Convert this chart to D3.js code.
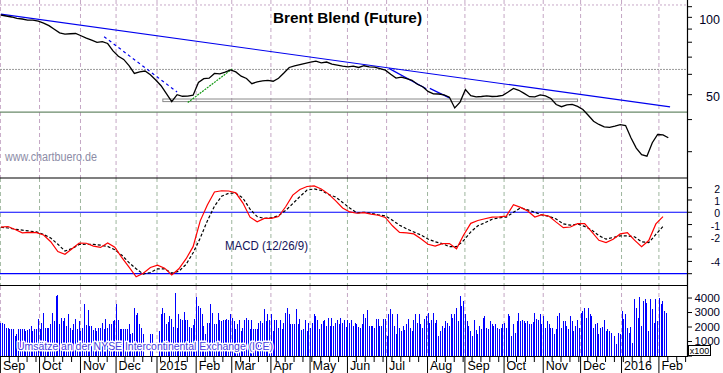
<!DOCTYPE html>
<html>
<head>
<meta charset="utf-8">
<script src="https://cdn.jsdelivr.net/npm/d3@7"></script>
<style>
body { margin: 0; background: #fff; }
svg { display: block; font-family: Arial, "Liberation Sans", sans-serif; }
</style>
</head>
<body>
<svg id="chart" width="723" height="373"></svg>
<script>
// trading days Sep 2014 .. Feb 2016, price every 3rd day, macd every 4th day
var firstDay = new Date(2014, 8, 1), lastDay = new Date(2016, 1, 24);
var priceStep = 3, macdStep = 4;

var prices = [
  102.1, 101.2, 100.3, 99.0, 98.5, 97.6, 97.6, 96.7, 95.0, 92.8,
  89.8, 87.0, 86.1, 86.3, 86.5, 84.8, 83.0, 81.5, 79.9, 80.4,
  79.1, 74.0, 70.6, 68.6, 64.9, 60.5, 61.3, 61.8, 59.8, 57.0,
  54.2, 50.5, 47.0, 50.0, 49.3, 49.4, 49.8, 55.8, 57.7, 58.0,
  60.5, 60.3, 61.2, 62.4, 61.3, 59.0, 57.8, 55.2, 56.1, 56.6,
  56.8, 56.4, 57.9, 60.7, 63.8, 64.7, 65.5, 66.2, 66.9, 67.5,
  66.5, 67.0, 65.8, 65.2, 64.6, 64.1, 64.6, 63.8, 64.8, 64.1,
  64.0, 63.2, 62.3, 60.0, 58.0, 58.5, 57.7, 56.9, 54.9, 53.7,
  51.5, 50.4, 50.3, 49.9, 48.9, 44.4, 46.8, 52.4, 49.6, 49.0,
  49.2, 49.5, 49.2, 49.3, 49.7, 51.2, 52.9, 52.0, 50.6, 49.1,
  49.0, 49.9, 49.5, 48.3, 45.8, 44.9, 45.6, 45.8, 45.0, 43.8,
  41.6, 39.4, 38.3, 37.5, 37.3, 37.7, 38.2, 37.9, 34.0, 31.0,
  29.2, 28.8, 32.5, 35.0, 34.9, 34.0
];

var macd = [
  -1.21, -1.16, -1.40, -1.67, -1.64, -1.66, -1.85, -2.40, -3.20, -3.42,
  -2.97, -2.50, -2.52, -2.75, -2.86, -2.50, -2.85, -3.70, -4.47, -5.25,
  -4.97, -4.50, -4.30, -4.55, -5.10, -4.60, -3.80, -2.80, -0.70, 0.60,
  1.65, 1.75, 1.73, 1.58, 0.75, -0.40, -0.78, -0.50, -0.50, -0.35,
  0.45, 1.40, 1.85, 2.10, 2.15, 1.90, 1.50, 0.95, 0.35, 0.03,
  -0.08, -0.03, -0.15, -0.24, -0.42, -1.10, -1.64, -1.67, -1.76, -2.15,
  -2.60, -2.75, -2.55, -2.55, -2.97, -1.85, -0.90, -0.67, -0.53, -0.39,
  -0.38, -0.31, 0.62, 0.40, 0.10, -0.39, -0.19, -0.32, -0.80, -1.25,
  -1.20, -0.93, -0.92, -1.60, -2.28, -2.46, -2.19, -1.76, -1.65, -2.27,
  -2.80, -2.30, -0.95, -0.35
];

var signal = [
  -1.22, -1.28, -1.38, -1.45, -1.53, -1.60, -1.80, -2.10, -2.60, -3.15,
  -2.95, -2.62, -2.60, -2.61, -2.68, -2.78, -3.05, -3.50, -4.10, -4.60,
  -5.03, -4.90, -4.60, -4.60, -4.95, -4.80, -4.25, -3.30, -2.10, -0.70,
  0.50, 1.30, 1.55, 1.55, 1.15, 0.25, -0.35, -0.50, -0.45, -0.28,
  0.15, 0.70, 1.28, 1.80, 1.90, 1.78, 1.45, 1.25, 0.80, 0.35,
  -0.05, 0.00, -0.08, -0.20, -0.30, -0.65, -1.05, -1.35, -1.60, -1.85,
  -2.18, -2.40, -2.55, -2.80, -2.80, -2.30, -1.60, -1.10, -0.85, -0.57,
  -0.45, -0.39, 0.00, 0.36, 0.20, 0.00, -0.22, -0.33, -0.55, -0.95,
  -1.05, -0.96, -1.15, -1.45, -1.90, -2.19, -2.05, -1.92, -1.92, -2.00,
  -2.40, -2.47, -1.80, -1.15
];

// daily volume (axis units, x100)
var volume = [
  // Sep 2014
  2250, 2250, 2180, 1950, 1900, 1840, 1840, 1840, 1380, 1500, 1840, 1840, 1840, 1840, 1720, 1760, 1840, 2060, 1720, 1840, 1840, 2520,
  // Oct
  1840, 2300, 2990, 1900, 1900, 1900, 2180, 2940, 2410, 4140, 4200, 2200, 2640, 2410, 2600, 2100, 2870, 1950, 1800, 2180, 2530, 1840, 2410,
  // Nov
  1720, 1900, 3560, 2140, 3150, 2070, 2070, 1800, 1900, 1700, 1900, 1950, 2300, 1840, 2530, 1950, 2180, 2180, 2410, 2460,
  // Dec
  3560, 2460, 1840, 1840, 1840, 1840, 1840, 2180, 1490, 1600, 3330, 2800, 2990, 2180, 1950, 1490, 0, 0, 0, 1490, 1490, 0, 0,
  // Jan 2015
  0, 1720, 2870, 3330, 2990, 2180, 2370, 2760, 2530, 2000, 4370, 1950, 2870, 2530, 2460, 3060, 2460, 2460, 2000, 1950, 2140, 2530,
  // Feb
  4070, 3450, 3330, 2870, 2070, 1490, 2300, 2300, 3560, 2990, 2180, 2180, 2940, 2460, 2410, 2460, 2460, 2530, 2460, 2870,
  // Mar
  2640, 2410, 1840, 2180, 2460, 1720, 1950, 2460, 2640, 2460, 1840, 2460, 1840, 1840, 1840, 2300, 2410, 2300, 3220, 2410, 2870, 2460,
  // Apr
  2870, 1700, 2460, 2460, 1950, 2460, 1840, 2300, 2990, 3330, 2870, 2180, 2230, 2180, 3220, 2230, 2530, 1770, 1840, 2460, 1720, 2300,
  // May
  1950, 2300, 2870, 2760, 2460, 1840, 2230, 2410, 2460, 2070, 2640, 2070, 2600, 2070, 2300, 2460, 2180, 2600, 2300, 2460, 2000,
  // Jun
  2460, 2300, 2460, 2070, 2300, 2230, 2000, 1900, 2180, 2870, 2640, 3150, 2070, 2070, 2070, 1950, 2530, 2530, 2070, 2070, 2530, 2530,
  // Jul
  1380, 2870, 3220, 2870, 2070, 1490, 2870, 1950, 1720, 2070, 1760, 2180, 2530, 1950, 1720, 2460, 2870, 2300, 2870, 2230, 1950, 2530, 2760,
  // Aug
  2990, 2300, 2460, 2990, 2300, 2460, 1380, 1720, 2070, 1950, 2410, 2300, 2070, 2870, 2640, 2870, 3330, 2400, 4140, 3450, 3790,
  // Sep
  2870, 2410, 2070, 1720, 1380, 2460, 1770, 1490, 2070, 1840, 2640, 2760, 1950, 1840, 2410, 2180, 2070, 2180, 1950, 1840, 1950, 2180,
  // Oct
  2300, 1950, 2920, 2760, 1380, 2180, 1600, 2410, 2940, 2410, 2460, 2410, 2300, 2410, 2180, 2180, 2370, 2940, 2530, 2460, 2870, 2200,
  // Nov
  2760, 1950, 2410, 2180, 1950, 1950, 1490, 1840, 2760, 2990, 1950, 2410, 2410, 2070, 1840, 2760, 2410, 1720, 2070, 2460, 1950,
  // Dec
  2990, 3100, 3330, 2640, 3330, 2870, 2760, 1950, 2180, 2300, 1490, 1950, 2000, 2460, 1720, 1840, 1720, 1600, 0, 1400, 800, 1600, 1500,
  // Jan 2016
  3100, 2530, 2870, 1950, 1600, 2000, 920, 3910, 3330, 2640, 4090, 2100, 3800, 3910, 3680, 1720, 3910, 3220, 2300, 3910, 2400,
  // Feb
  4020, 3560, 3800, 3100, 2940
];

var monthLabels = ["Sep", "Oct", "Nov", "Dec", "2015", "Feb", "Mar", "Apr", "May", "Jun",
                   "Jul", "Aug", "Sep", "Oct", "Nov", "Dec", "2016", "Feb"];

var priceTicks = [110, 100, 90, 80, 70, 60, 50, 40, 30];
var priceLabels = [100, 50];
var macdTicks = [2, 1, 0, -1, -2, -3, -4, -5];
var macdLabels = [2, 1, 0, -1, -2, -4];
var volTicks = [0, 1000, 2000, 3000, 4000];
var volLabels = [4000, 3000, 2000, 1000];

// drawn analysis lines: [from, price, to, price]
var trendLong = ["2014-09-01", 102.9, "2016-02-09", 44.8];
var trendDashed = ["2014-11-20", 84.1, "2015-01-16", 51.2];
var trendShort = [["2015-07-02", 63.3, "2015-07-31", 52.7],
                  ["2015-08-04", 52.9, "2015-08-19", 48.6]];
var trendGreen = ["2015-01-26", 46.6, "2015-03-02", 63.0];
var supportBand = ["2015-01-06", 48.1, "2015-11-27", 47.0];
var levelGreen = 42.8, levelGray = 62.7, levelTop = 111.7;
var macdLevels = [0, -5];

var svg = d3.select("#chart");
var W = 687;
var pTop = 0, pBot = 178, mTop = 178, mBot = 285, vTop = 286, vBot = 356;

var days = d3.timeDay.range(firstDay, lastDay).filter(function (d) {
    var w = d.getDay();
    return w > 0 && w < 6;
});
var fmt = d3.timeFormat("%Y-%m-%d");
var dayIndex = {};
days.forEach(function (d, i) { dayIndex[fmt(d)] = i; });

var x = d3.scaleLinear().domain([-0.5, 385.5]).range([0, W]);
var yP = d3.scaleLog().domain([23.7, 116.8]).range([pBot, pTop]);
var yM = d3.scaleLinear().domain([-5.92, 2.79]).range([mBot, mTop]);
var yV = d3.scaleLinear().domain([0, 4830]).range([vBot, vTop]);

function xd(s) { return x(dayIndex[s]); }

// month starts
var monthStarts = [];
days.forEach(function (d, i) {
    if (i == 0 || d.getMonth() != days[i - 1].getMonth()) monthStarts.push(i);
});
monthStarts = monthStarts.slice(0, monthLabels.length);

svg.append("rect").attr("width", 723).attr("height", 373).attr("fill", "#fff");

// vertical month grid
var panels = [[pTop, pBot, "#c4a6c4"], [mTop, mBot, "#9db59d"], [vTop, vBot, "#c4a6c4"]];
panels.forEach(function (p) {
    svg.append("g").selectAll("line")
        .data(monthStarts)
        .enter().append("line")
        .attr("x1", function (i) { return x(i) - 0.5; })
        .attr("x2", function (i) { return x(i) - 0.5; })
        .attr("y1", p[0]).attr("y2", p[1])
        .attr("stroke", p[2])
        .attr("stroke-dasharray", "4,3");
});

// price panel horizontal levels
svg.append("line").attr("x1", 0).attr("x2", W)
    .attr("y1", yP(levelTop)).attr("y2", yP(levelTop))
    .attr("stroke", "#c8a8c8").attr("stroke-dasharray", "2,2");
svg.append("line").attr("x1", 0).attr("x2", W)
    .attr("y1", yP(levelGray)).attr("y2", yP(levelGray))
    .attr("stroke", "#9a9a9a").attr("stroke-dasharray", "2,1");
svg.append("line").attr("x1", 0).attr("x2", W)
    .attr("y1", yP(levelGreen)).attr("y2", yP(levelGreen))
    .attr("stroke", "#6a8a6a").attr("stroke-width", 1.2);

svg.append("rect")
    .attr("x", xd(supportBand[0]))
    .attr("y", yP(supportBand[1]))
    .attr("width", xd(supportBand[2]) - xd(supportBand[0]))
    .attr("height", yP(supportBand[3]) - yP(supportBand[1]))
    .attr("fill", "none")
    .attr("stroke", "#8a8a8a");

function seg(t, color, dash) {
    svg.append("line")
        .attr("x1", xd(t[0])).attr("y1", yP(t[1]))
        .attr("x2", xd(t[2])).attr("y2", yP(t[3]))
        .attr("stroke", color)
        .attr("stroke-width", 1.2)
        .attr("stroke-dasharray", dash);
}
seg(trendLong, "#0000ee", null);
seg(trendDashed, "#0000ee", "3,3");
trendShort.forEach(function (t) { seg(t, "#0000ee", null); });
seg(trendGreen, "#119911", "2,1");

// price line
var priceLine = d3.line()
    .x(function (d, i) { return x(i * priceStep); })
    .y(function (d) { return yP(d); });
svg.append("path")
    .datum(prices)
    .attr("d", priceLine)
    .attr("fill", "none")
    .attr("stroke", "#000")
    .attr("stroke-width", 1.3);

svg.append("text")
    .attr("x", 273).attr("y", 23)
    .attr("font-size", 15.5).attr("font-weight", "bold")
    .attr("textLength", 149).attr("lengthAdjust", "spacingAndGlyphs")
    .text("Brent Blend (Future)");

svg.append("text")
    .attr("x", 5).attr("y", 161)
    .attr("font-size", 12).attr("fill", "#8c8ca6")
    .attr("textLength", 92).attr("lengthAdjust", "spacingAndGlyphs")
    .text("www.chartbuero.de");

// MACD panel
svg.append("g").selectAll("line")
    .data(macdLevels)
    .enter().append("line")
    .attr("x1", 0).attr("x2", W)
    .attr("y1", function (d) { return yM(d); })
    .attr("y2", function (d) { return yM(d); })
    .attr("stroke", "#0000ff").attr("stroke-width", 1.2);

var macdLine = d3.line()
    .x(function (d, i) { return x(i * macdStep); })
    .y(function (d) { return yM(d); });
svg.append("path").datum(signal).attr("d", macdLine)
    .attr("fill", "none").attr("stroke", "#000")
    .attr("stroke-width", 1.2).attr("stroke-dasharray", "3,2");
svg.append("path").datum(macd).attr("d", macdLine)
    .attr("fill", "none").attr("stroke", "#ff0000")
    .attr("stroke-width", 1.2);

svg.append("text")
    .attr("x", 225).attr("y", 249.5)
    .attr("font-size", 12).attr("fill", "#14145a")
    .attr("textLength", 83).attr("lengthAdjust", "spacingAndGlyphs")
    .text("MACD (12/26/9)");

// panel borders
[pBot, mBot + 0.5].forEach(function (y) {
    svg.append("line").attr("x1", 0).attr("x2", W)
        .attr("y1", y).attr("y2", y)
        .attr("stroke", "#000").attr("stroke-width", 1.2);
});

// volume bars
svg.append("g")
    .attr("shape-rendering", "crispEdges")
    .selectAll("rect")
    .data(volume)
    .enter().append("rect")
    .attr("x", function (d, i) { return Math.round(x(i) - 0.5); })
    .attr("y", function (d) { return yV(d); })
    .attr("width", 1)
    .attr("height", function (d) { return yV(0) - yV(d); })
    .attr("fill", "#0000ff");

svg.append("text")
    .attr("x", 17).attr("y", 350)
    .attr("font-size", 11.5).attr("fill", "#4a3ee0")
    .attr("stroke", "#fff").attr("stroke-width", 3)
    .attr("stroke-linejoin", "round")
    .attr("paint-order", "stroke")
    .attr("textLength", 256).attr("lengthAdjust", "spacingAndGlyphs")
    .text("Umsätze an der NYSE Intercontinental Exchange (ICE)");

// x axis
svg.append("line").attr("x1", 0).attr("x2", W)
    .attr("y1", vBot + 0.5).attr("y2", vBot + 0.5)
    .attr("stroke", "#000").attr("stroke-width", 1.2);

var weekTicks = [];
days.forEach(function (d, i) {
    if (d.getDay() == 1 && monthStarts.indexOf(i) < 0 && x(i) < W) weekTicks.push(i);
});
svg.append("g").selectAll("line")
    .data(weekTicks)
    .enter().append("line")
    .attr("x1", function (i) { return x(i) - 0.5; })
    .attr("x2", function (i) { return x(i) - 0.5; })
    .attr("y1", vBot).attr("y2", vBot + 6)
    .attr("stroke", "#000");

var xAxis = svg.append("g").selectAll("g")
    .data(monthStarts)
    .enter().append("g");
xAxis.append("line")
    .attr("x1", function (i) { return x(i) - 0.5; })
    .attr("x2", function (i) { return x(i) - 0.5; })
    .attr("y1", vBot).attr("y2", 373)
    .attr("stroke", "#000");
xAxis.append("text")
    .attr("x", function (i) { return x(i) + 2; })
    .attr("y", 370)
    .attr("font-size", 12.5)
    .text(function (i, k) { return monthLabels[k]; });

// right axis
svg.append("line").attr("x1", W + 0.5).attr("x2", W + 0.5)
    .attr("y1", 0).attr("y2", vBot + 1)
    .attr("stroke", "#000").attr("stroke-width", 1.2);

function rightTicks(ticks, scale) {
    svg.append("g").selectAll("line")
        .data(ticks)
        .enter().append("line")
        .attr("x1", W).attr("x2", W + 5)
        .attr("y1", function (d) { return scale(d); })
        .attr("y2", function (d) { return scale(d); })
        .attr("stroke", "#000");
}
function rightLabels(labels, scale, dy, size) {
    svg.append("g").selectAll("text")
        .data(labels)
        .enter().append("text")
        .attr("x", 720)
        .attr("y", function (d) { return scale(d) + dy; })
        .attr("text-anchor", "end")
        .attr("font-size", size)
        .attr("fill", "#000022")
        .text(function (d) { return d; });
}
rightTicks(priceTicks, yP);
rightLabels(priceLabels, yP, 6.2, 12.5);
rightTicks(macdTicks, yM);
rightLabels(macdLabels, yM, 5, 10.5);
rightTicks(volTicks, yV);
rightLabels(volLabels, yV, 3.8, 11.5);

svg.append("rect")
    .attr("x", 688.5).attr("y", 345.5)
    .attr("width", 22).attr("height", 10)
    .attr("fill", "#fff").attr("stroke", "#000");
svg.append("text")
    .attr("x", 699.5).attr("y", 354)
    .attr("text-anchor", "middle")
    .attr("font-size", 9)
    .text("x100");
</script>
</body>
</html>
